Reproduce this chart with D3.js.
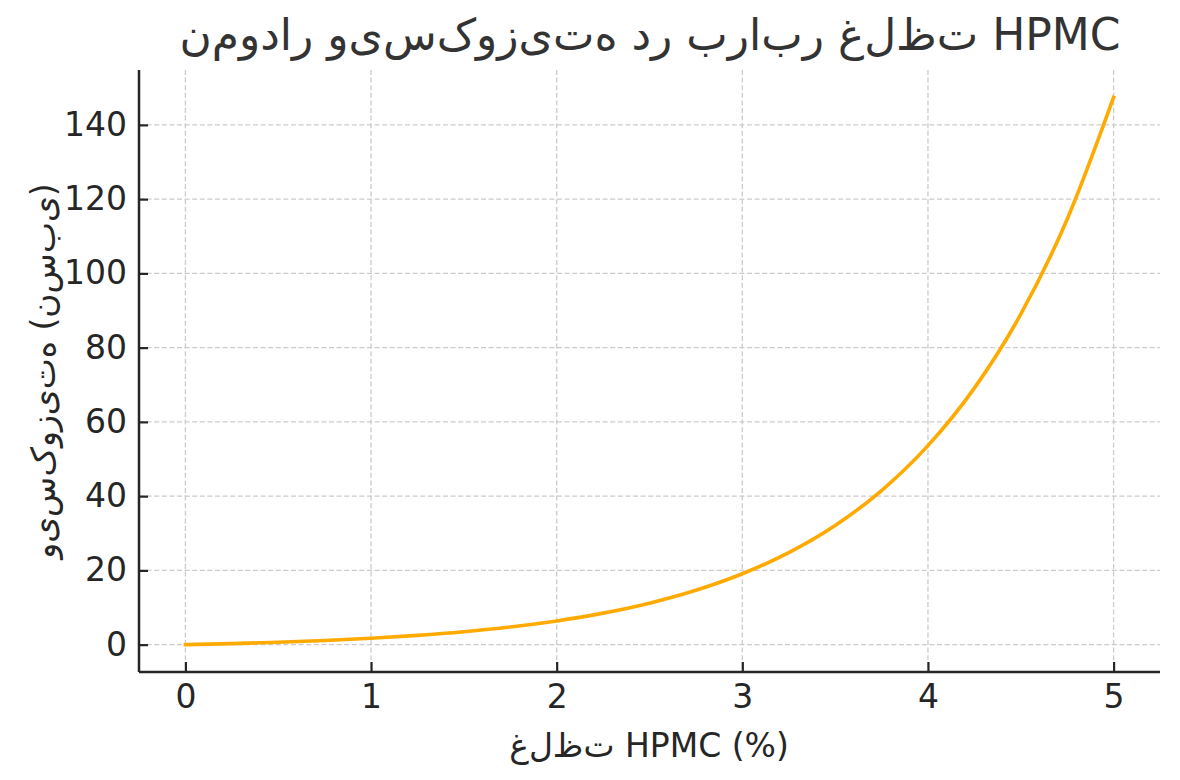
<!DOCTYPE html>
<html><head><meta charset="utf-8">
<script src="https://cdn.jsdelivr.net/npm/d3@7"></script>
<style>
body{margin:0;background:#fff;}
svg text{font-family:"DejaVu Sans",sans-serif;}
.raw{direction:ltr;unicode-bidi:bidi-override;font-feature-settings:"init" 0,"medi" 0,"fina" 0,"rlig" 0,"calt" 0,"liga" 0;}
</style></head>
<body><svg id="c" width="1180" height="780"></svg>
<script>
const concentration = [0,0.25,0.5,0.75,1,1.25,1.5,1.75,2,2.25,2.5,2.75,3,3.25,3.5,3.75,4,4.25,4.5,4.75,5];
const viscosity = [0,0.28,0.65,1.12,1.72,2.49,3.48,4.75,6.39,8.49,11.18,14.64,19.09,24.79,32.1,41.5,53.6,69.1,89.0,114.6,147.4];
const xTicks = [0,1,2,3,4,5];
const yTicks = [0,20,40,60,80,100,120,140];
const titleText = "نمودار ویسکوزیته در برابر غلظت HPMC";
const xLabel = "غلظت HPMC (%)";
const yLabel = "ویسکوزیته (نسبی)";

const L=139,R=1160,T=70,B=672;
const svg=d3.select("#c");
const x=d3.scaleLinear().domain([-0.25,5.25]).range([L,R]);
const y=d3.scaleLinear().domain([-7.37,154.78]).range([B,T]);

// grid
const g=svg.append("g");
g.selectAll(".gx").data(xTicks).join("line").attr("x1",d=>x(d)).attr("x2",d=>x(d)).attr("y1",T).attr("y2",B)
 .attr("stroke","#cbcbcb").attr("stroke-width",1.3).attr("stroke-dasharray","5,2.6");
g.selectAll(".gy").data(yTicks).join("line").attr("y1",d=>y(d)).attr("y2",d=>y(d)).attr("x1",L).attr("x2",R)
 .attr("stroke","#cbcbcb").attr("stroke-width",1.3).attr("stroke-dasharray","5,2.6");

// line
svg.append("path").datum(concentration.map((c,i)=>[c,viscosity[i]]))
 .attr("fill","none").attr("stroke","#FFAA00").attr("stroke-width",3.6).attr("stroke-linecap","square")
 .attr("d",d3.line().x(d=>x(d[0])).y(d=>y(d[1])).curve(d3.curveMonotoneX));

// axes
const xa=svg.append("g").attr("transform",`translate(0,${B})`)
 .call(d3.axisBottom(x).tickValues(xTicks).tickSizeInner(-10).tickSizeOuter(0).tickPadding(13).tickFormat(d3.format("d")));
const ya=svg.append("g").attr("transform",`translate(${L},0)`)
 .call(d3.axisLeft(y).tickValues(yTicks).tickSizeInner(-9).tickSizeOuter(0).tickPadding(12).tickFormat(d3.format("d")));
[xa,ya].forEach(a=>{
 a.select(".domain").attr("stroke","#262626").attr("stroke-width",2.5);
 a.selectAll(".tick line").attr("stroke","#262626").attr("stroke-width",2.2);
 a.selectAll(".tick text").attr("fill","#262626").attr("font-size",33).attr("font-family","DejaVu Sans");
});
ya.select(".domain").attr("d",`M0,${B}V${T}`);
xa.select(".domain").attr("d",`M${L},0H${R}`);

svg.append("text").attr("class","raw").attr("x",650).attr("y",50).attr("text-anchor","middle")
 .attr("font-size",44).attr("fill","#333").text(titleText);
svg.append("text").attr("class","raw").attr("x",649).attr("y",757).attr("text-anchor","middle")
 .attr("font-size",33).attr("fill","#262626").text(xLabel);
svg.append("text").attr("class","raw").attr("transform","translate(55,371) rotate(-90)").attr("text-anchor","middle")
 .attr("font-size",33).attr("fill","#262626").text(yLabel);
</script></body></html>
